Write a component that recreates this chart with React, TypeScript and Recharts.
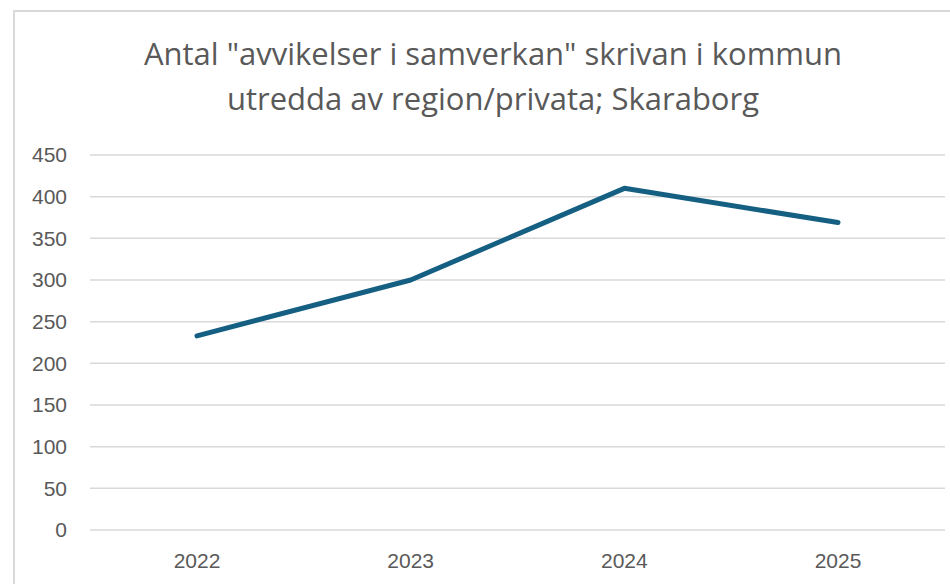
import { LineChart, Line, XAxis, YAxis, CartesianGrid } from "recharts";

const YEARS = ["2022", "2023", "2024", "2025"];
const AVVIKELSER = [233, 300, 410, 369];
const Y_TICKS = [0, 50, 100, 150, 200, 250, 300, 350, 400, 450];
const TITLE_LINES = [
  'Antal "avvikelser i samverkan" skrivan i kommun',
  "utredda av region/privata; Skaraborg",
];

const rows = YEARS.map((year, i) => ({ year, value: AVVIKELSER[i] }));

const TEXT = "#595959";
const GRID = "#d9d9d9";

export default function App() {
  return (
    <div
      style={{
        position: "fixed",
        left: 0,
        top: 0,
        width: 950,
        height: 584,
        overflow: "hidden",
        background: "#fff",
      }}
    >
      {/* chart frame, runs off the right/bottom edge like the screenshot */}
      <div
        style={{
          position: "absolute",
          left: 13,
          top: 10,
          width: 960,
          height: 600,
          border: `2px solid ${GRID}`,
          boxSizing: "border-box",
        }}
      />
      <div
        style={{
          position: "absolute",
          left: 0,
          width: 986,
          top: 31,
          textAlign: "center",
          fontFamily: "'Open Sans', sans-serif",
          fontSize: 31,
          lineHeight: "45px",
          color: TEXT,
        }}
      >
        {TITLE_LINES.map((t) => (
          <div key={t}>{t}</div>
        ))}
      </div>
      <div style={{ position: "absolute", left: 0, top: 0 }}>
        <LineChart
          width={950}
          height={584}
          data={rows}
          margin={{ top: 155, right: 5, left: 0, bottom: 0 }}
        >
          <CartesianGrid vertical={false} stroke={GRID} strokeWidth={1.5} />
          <XAxis
            dataKey="year"
            height={54}
            axisLine={false}
            tickLine={false}
            tickSize={0}
            tickMargin={23}
            padding={{ left: 107, right: 107 }}
            tick={{ fill: TEXT, fontSize: 21, fontFamily: "'Liberation Sans', Arial, sans-serif" }}
          />
          <YAxis
            width={90}
            domain={[0, 450]}
            ticks={Y_TICKS}
            interval={0}
            axisLine={false}
            tickLine={false}
            tickSize={0}
            tickMargin={23}
            tick={{ fill: TEXT, fontSize: 21, fontFamily: "'Liberation Sans', Arial, sans-serif" }}
          />
          <Line
            type="linear"
            dataKey="value"
            stroke="#156082"
            strokeWidth={5}
            strokeLinecap="round"
            strokeLinejoin="round"
            dot={false}
            activeDot={false}
            isAnimationActive={false}
          />
        </LineChart>
      </div>
    </div>
  );
}
